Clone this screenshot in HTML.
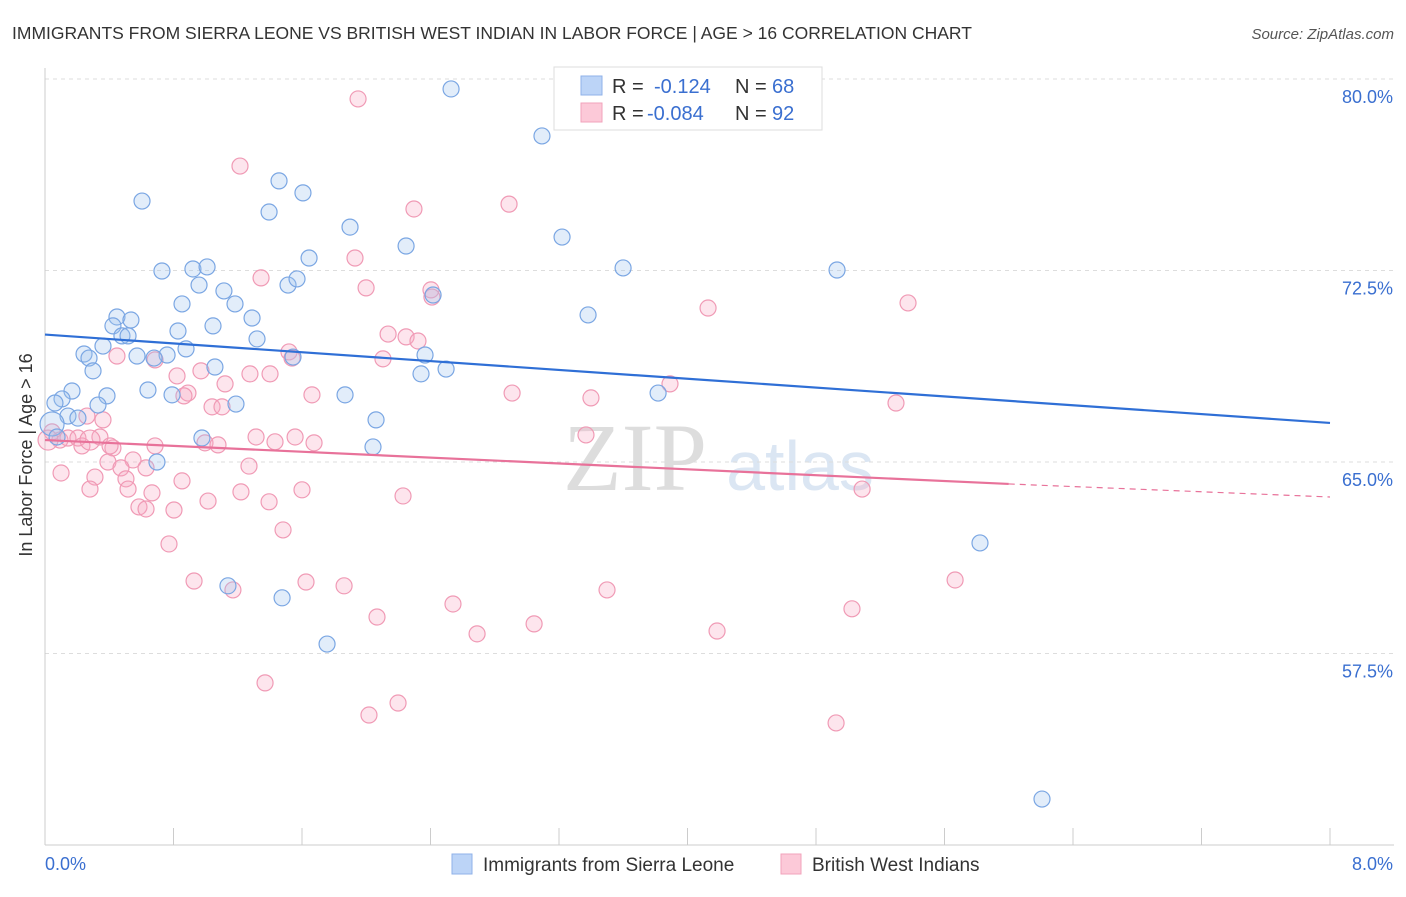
<!DOCTYPE html>
<html><head><meta charset="utf-8"><style>
body{margin:0;background:#fff;font-family:"Liberation Sans",sans-serif}
svg text{font-family:"Liberation Sans",sans-serif}
</style></head><body>
<svg id="c" width="1406" height="892" xmlns="http://www.w3.org/2000/svg">
<text x="12" y="39" font-size="17.5" fill="#333">IMMIGRANTS FROM SIERRA LEONE VS BRITISH WEST INDIAN IN LABOR FORCE | AGE &gt; 16 CORRELATION CHART</text>
<text x="1394" y="39" font-size="15" fill="#555" font-style="italic" text-anchor="end">Source: ZipAtlas.com</text>
<text x="32" y="455" font-size="18" fill="#333" text-anchor="middle" transform="rotate(-90 32 455)">In Labor Force | Age &gt; 16</text>
<g><text x="635" y="490" font-size="96" fill="#ddd" text-anchor="middle" font-family="Liberation Serif" style="font-family:'Liberation Serif',serif">ZIP</text><text x="800" y="490" font-size="70" fill="#dbe6f3" text-anchor="middle">atlas</text></g>
<g id="grid"></g><g id="axes"></g><g id="pts"></g><g id="lines"></g>
<g>
<rect x="554" y="67" width="268" height="63" fill="#fff" stroke="#ddd"/>
<rect x="581" y="76" width="21" height="19" fill="#bcd4f7" stroke="#8fb2e8"/>
<rect x="581" y="103" width="21" height="19" fill="#fcc9d8" stroke="#f2a3bb"/>
<text x="612" y="93" font-size="20" fill="#333">R = </text><text x="654" y="93" font-size="20" fill="#3a6fd0">-0.124</text>
<text x="735" y="93" font-size="20" fill="#333">N = </text><text x="772" y="93" font-size="20" fill="#3a6fd0">68</text>
<text x="612" y="120" font-size="20" fill="#333">R = </text><text x="647" y="120" font-size="20" fill="#3a6fd0">-0.084</text>
<text x="735" y="120" font-size="20" fill="#333">N = </text><text x="772" y="120" font-size="20" fill="#3a6fd0">92</text>
</g>
<g>
<rect x="452" y="854" width="20" height="20" fill="#bcd4f7" stroke="#8fb2e8"/>
<text x="483" y="871" font-size="19" fill="#333">Immigrants from Sierra Leone</text>
<rect x="781" y="854" width="20" height="20" fill="#fcc9d8" stroke="#f2a3bb"/>
<text x="812" y="871" font-size="19" fill="#333">British West Indians</text>
</g>
</svg>
<script>
const blueX=[2.528,3.094,0.604,1.457,1.606,1.395,1.899,2.248,3.219,1.644,0.728,0.921,1.009,0.959,1.513,1.569,1.114,0.853,1.183,3.599,4.931,2.416,3.381,0.448,0.535,0.423,0.828,1.046,1.289,0.479,0.517,1.320,0.361,0.243,0.274,0.573,0.760,0.679,0.878,0.299,1.058,1.544,2.366,2.341,2.497,0.168,0.106,0.386,0.641,0.791,0.330,1.189,1.868,3.817,0.143,0.205,0.062,0.044,0.075,0.977,2.061,2.042,0.697,1.139,1.476,1.756,5.821,6.207];
const blueY=[79.61,77.77,75.22,76.01,75.54,74.79,74.20,73.46,73.81,72.99,72.48,72.56,72.64,71.93,71.93,72.17,71.70,71.19,71.19,72.60,72.52,71.54,70.76,70.68,70.56,70.33,70.13,70.33,70.64,69.94,69.94,69.82,69.54,69.23,69.07,69.15,69.19,69.07,69.43,68.57,68.72,69.11,69.19,68.45,68.64,67.78,67.47,67.59,67.82,67.63,67.23,67.27,67.63,67.70,66.80,66.72,67.31,66.49,65.98,65.94,66.65,65.59,65.00,60.15,59.68,57.87,61.83,51.80];
const pinkX=[1.949,1.214,2.889,2.297,1.930,1.345,1.999,2.403,2.409,4.128,5.373,2.136,2.248,2.322,0.448,0.685,2.104,1.519,1.538,0.971,0.822,1.276,1.401,3.891,0.890,0.865,1.121,1.040,1.102,1.662,2.908,3.399,5.298,0.361,0.261,0.044,0.093,0.143,0.205,0.230,0.342,0.423,0.685,0.996,1.077,1.314,1.432,1.557,1.675,3.368,0.548,0.392,0.473,1.270,0.629,0.100,0.311,0.504,0.517,0.666,0.853,0.280,1.220,1.600,1.395,2.229,1.015,0.585,0.629,0.803,5.087,0.772,1.482,0.928,1.625,1.862,1.170,3.499,5.666,2.540,2.067,5.024,2.690,3.045,4.184,1.370,2.017,2.198,4.925,0.405,0.019,0.280];
const pinkY=[79.22,76.59,75.10,74.91,72.99,72.21,71.82,71.74,71.46,71.03,71.23,70.01,69.90,69.74,69.15,69.00,69.04,69.31,69.07,68.57,68.37,68.45,68.45,68.06,67.70,67.59,68.06,67.16,67.16,67.63,67.70,67.51,67.31,66.65,66.80,66.18,65.86,65.94,65.94,65.63,65.98,65.55,65.63,65.75,65.67,65.98,65.79,65.98,65.75,66.06,65.08,65.00,64.77,64.84,64.77,64.57,64.41,64.34,63.94,63.79,64.26,63.94,63.83,63.91,63.44,63.67,63.47,63.24,63.16,63.12,63.94,61.79,62.34,60.34,60.30,60.15,59.99,59.99,60.38,59.44,58.93,59.25,58.27,58.66,58.38,56.35,55.09,55.56,54.78,65.63,65.86,65.86];
const yTicks=[80,72.5,65,57.5];
const yTickLabels=["80.0%","72.5%","65.0%","57.5%"];
const blueTrend=[[0,69.99],[8,66.53]];
const pinkTrend=[[0,65.86],[6.0,64.14],[8,63.63]];
const NS="http://www.w3.org/2000/svg";
const X=v=>45+v/8*1285, Y=v=>79+(80-v)/7.5*191.5;
function mk(t,a,p){const e=document.createElementNS(NS,t);for(const k in a)e.setAttribute(k,a[k]);p.appendChild(e);return e;}
const grid=document.getElementById('grid'),axes=document.getElementById('axes');
yTicks.forEach((t,i)=>{const l=mk('line',{x1:45,x2:1394,y1:Y(t),y2:Y(t),stroke:'#ddd','stroke-dasharray':'4 4'},grid);

const tx=mk('text',{x:1393,y:Y(t)+24,'font-size':18,fill:'#3a6fd0','text-anchor':'end'},axes);tx.textContent=yTickLabels[i];
});
const ax=mk('line',{x1:45,x2:1394,y1:845,y2:845,stroke:'#ccc'},axes);
const ay=mk('line',{x1:45,x2:45,y1:68,y2:845,stroke:'#ccc'},axes);
for(let i=0;i<=10;i++){const t=mk('line',{x1:X(i*0.8),x2:X(i*0.8),y1:828,y2:845,stroke:'#ccc'},axes);}
const l0=mk('text',{x:45,y:870,'font-size':18,fill:'#3a6fd0'},axes);l0.textContent='0.0%';
const l1=mk('text',{x:1393,y:870,'font-size':18,fill:'#3a6fd0','text-anchor':'end'},axes);l1.textContent='8.0%';
const pts=document.getElementById('pts');
pinkX.forEach((x,i)=>{const c=mk('circle',{cx:X(x),cy:Y(pinkY[i]),r:i>=pinkX.length-2?10:8,fill:'rgba(248,170,195,0.3)',stroke:'#f09ab5','stroke-width':1.2},pts);
});
blueX.forEach((x,i)=>{const c=mk('circle',{cx:X(x),cy:Y(blueY[i]),r:i==57?12:8,fill:'rgba(160,195,240,0.3)',stroke:'#7aa6e3','stroke-width':1.2},pts);
});
const lines=document.getElementById('lines');
const b=mk('line',{x1:X(blueTrend[0][0]),y1:Y(blueTrend[0][1]),x2:X(blueTrend[1][0]),y2:Y(blueTrend[1][1]),stroke:'#2f6fd6','stroke-width':2.2},lines);

const p=mk('line',{x1:X(pinkTrend[0][0]),y1:Y(pinkTrend[0][1]),x2:X(pinkTrend[1][0]),y2:Y(pinkTrend[1][1]),stroke:'#e8729a','stroke-width':2.2},lines);

const pd=mk('line',{x1:X(pinkTrend[1][0]),y1:Y(pinkTrend[1][1]),x2:X(pinkTrend[2][0]),y2:Y(pinkTrend[2][1]),stroke:'#e8729a','stroke-width':1.2,'stroke-dasharray':'6 5'},lines);

</script>
</body></html>
